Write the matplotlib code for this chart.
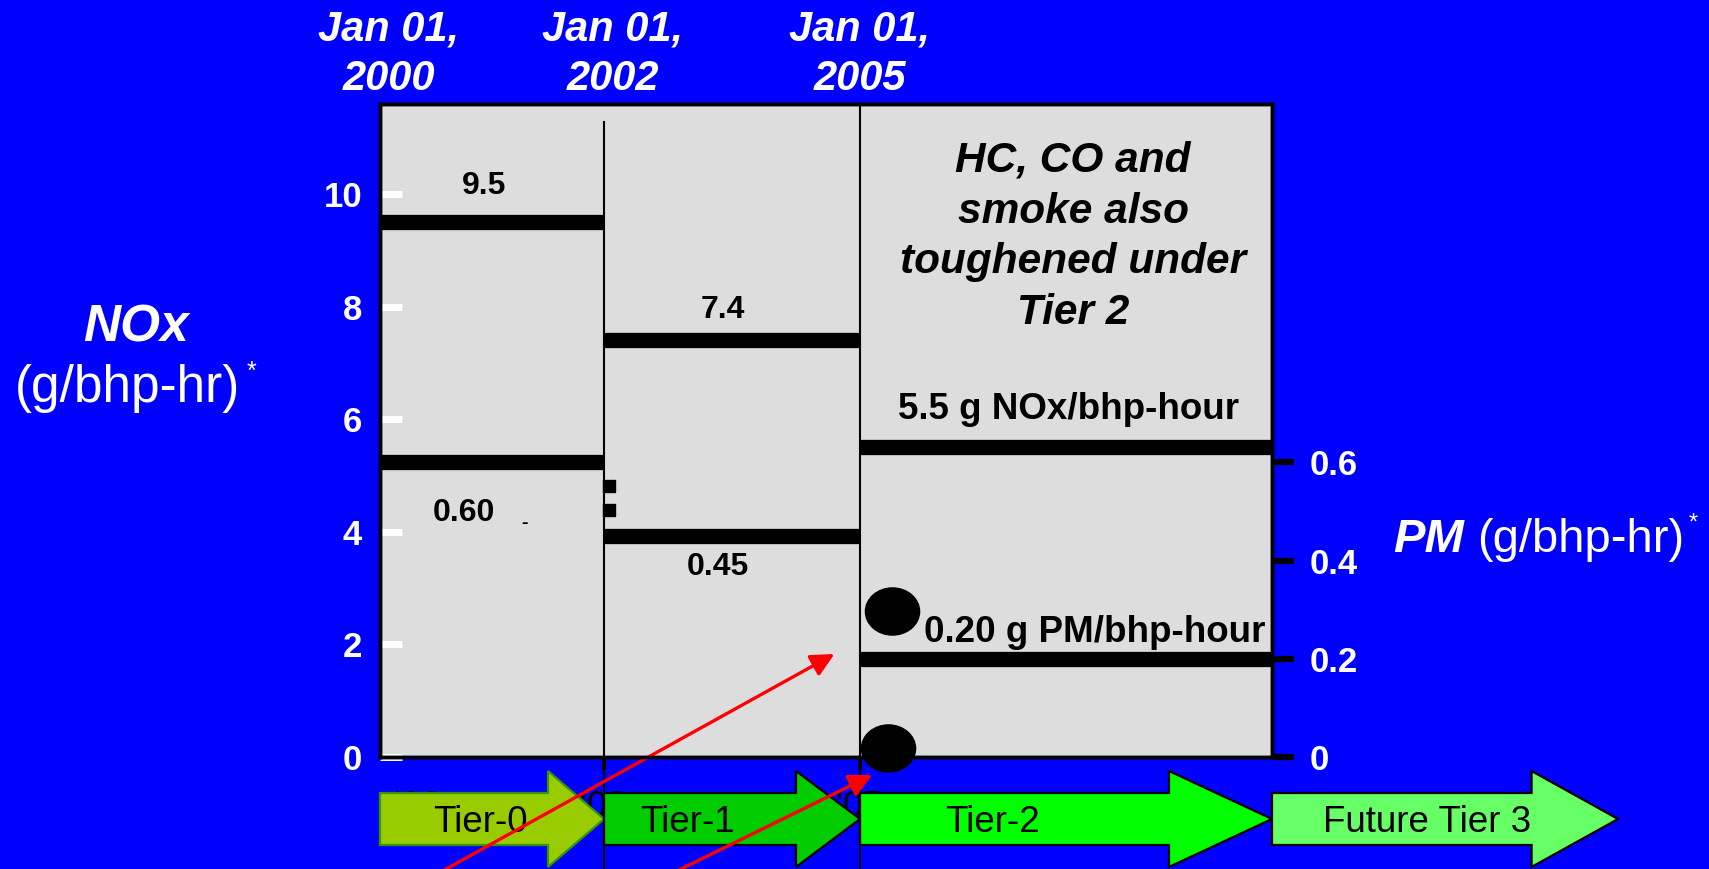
import numpy as np
import matplotlib
matplotlib.use("Agg")
import matplotlib.pyplot as plt
from matplotlib.patches import FancyArrow
from matplotlib.markers import MarkerStyle
from matplotlib.path import Path
from matplotlib.transforms import Affine2D, ScaledTranslation, blended_transform_factory

plt.rcParams["font.family"] = ["Liberation Sans", "DejaVu Sans"]

# --- data ---
tier_start = [2000, 2002, 2005]
tier_end = [2002, 2005, 2010]
nox = [9.5, 7.4, 5.5]
pm = [0.60, 0.45, 0.20]
nox_labels = ["9.5", "7.4", "5.5 g NOx/bhp-hour"]
pm_labels = ["0.60", "0.45", "0.20 g PM/bhp-hour"]

date_years = [2000, 2002, 2005]
date_labels = ["Jan 01,\n2000", "Jan 01,\n2002", "Jan 01,\n2005"]
year_ticks = [2000, 2002, 2005]
year_tick_labels = ["'00", "'02", "'05"]

arrow_names = ["Tier-0", "Tier-1", "Tier-2", "Future Tier 3"]
arrow_start = [2000, 2002, 2005, 2010]
arrow_end = [2002, 2005, 2010, 2014.2]
arrow_colors = ["#99CC00", "#00CC00", "#00FF00", "#66FF66"]
arrow_edges = ["#339900", "black", "black", "black"]

nox_ticks = [0, 2, 4, 6, 8, 10]
pm_ticks = [0, 0.2, 0.4, 0.6]
pm_tick_labels = ["0", "0.2", "0.4", "0.6"]

bullet_x = [2005.39, 2005.34]
bullet_y = [2.59, 0.16]

# red pointers, tail -> head (NOx units)
pointer_from = [(2000.40, -2.2), (2002.62, -2.2)]
pointer_to = [(2004.70, 1.83), (2005.15, -0.32)]

# stray marks next to the 2002 line (PM units)
stray_x = [2002.06, 2002.06]
stray_y = [0.552, 0.503]

note = "HC, CO and\nsmoke also\ntoughened under\nTier 2"

# the slide spaces the years unevenly -> piecewise-linear x scale
knot_years = np.array([2000, 2002, 2005, 2010], dtype=float)
knot_px = np.array([0, 224, 480, 892], dtype=float)


def fwd(x):
    x = np.asarray(x, dtype=float)
    out = np.interp(x, knot_years, knot_px)
    out = np.where(x < 2000, (x - 2000) * 112.0, out)
    out = np.where(x > 2010, 892 + (x - 2010) * 82.4, out)
    return out


def inv(p):
    p = np.asarray(p, dtype=float)
    out = np.interp(p, knot_px, knot_years)
    out = np.where(p < 0, 2000 + p / 112.0, out)
    out = np.where(p > 892, 2010 + (p - 892) / 82.4, out)
    return out


W, H = 1709, 869
BLUE = "#0000FF"
fig = plt.figure(figsize=(W / 100, H / 100), dpi=100, facecolor=BLUE)
ax = fig.add_axes([380 / W, 1 - 757 / H, 892 / W, 653 / H])
ax.set_facecolor("#DDDDDD")
ax.set_xscale("function", functions=(fwd, inv))
ax.set_xlim(2000, 2010)
ax.set_ylim(0, 11.6)

ax2 = ax.twinx()
ax2.set_ylim(0, 1.33)

for a in (ax, ax2):
    for sp in a.spines.values():
        sp.set_color("black")
        sp.set_linewidth(2.5)

# left axis (NOx)
ax.set_yticks(nox_ticks)
ax.set_yticklabels([str(t) for t in nox_ticks], fontweight="bold")
ax.tick_params(axis="y", direction="in", length=16, width=5, color="white",
               labelsize=25, labelcolor="white", pad=13)

# right axis (PM)
ax2.set_yticks(pm_ticks)
ax2.set_yticklabels(pm_tick_labels, fontweight="bold")
ax2.tick_params(axis="y", direction="out", length=16, width=4.5, color="black",
                labelsize=25, labelcolor="white", pad=11)

# bottom ticks (mostly hidden behind the tier arrows)
ax.set_xticks(year_ticks)
ax.set_xticklabels(year_tick_labels)
ax.tick_params(axis="x", direction="out", length=9, width=3, color="black",
               labelsize=26, labelcolor="black", pad=15)
first = ax.xaxis.get_major_ticks()[0]
first.tick1line.set_visible(False)
first.label1.set_transform(first.label1.get_transform()
                           + ScaledTranslation(0.37, 0, fig.dpi_scale_trans))

# standards as thick black bars
for s, e, v in zip(tier_start, tier_end, nox):
    ax.plot([s, e], [v, v], color="black", lw=11, solid_capstyle="butt",
            clip_on=False, zorder=5)
for s, e, v in zip(tier_start, tier_end, pm):
    ax2.plot([s, e], [v, v], color="black", lw=11, solid_capstyle="butt",
             clip_on=False, zorder=5)

nox_off = [(-8, 36), (-9, 30), (2, 38)]
nox_size = [23, 23, 26.5]
for s, e, v, lbl, off, fs in zip(tier_start, tier_end, nox, nox_labels, nox_off, nox_size):
    mid = float(inv((fwd(s) + fwd(e)) / 2))
    ax.annotate(lbl, xy=(mid, v), xytext=off, textcoords="offset pixels",
                ha="center", va="center", fontsize=fs, fontweight="bold",
                color="black", annotation_clip=False, zorder=6)

pm_off = [(-28, -51), (-14, -31), (29, 26)]
pm_size = [23, 23, 26.5]
for s, e, v, lbl, off, fs in zip(tier_start, tier_end, pm, pm_labels, pm_off, pm_size):
    mid = float(inv((fwd(s) + fwd(e)) / 2))
    ax2.annotate(lbl, xy=(mid, v), xytext=off, textcoords="offset pixels",
                 ha="center", va="center", fontsize=fs, fontweight="bold",
                 color="black", annotation_clip=False, zorder=6)

ax2.plot(stray_x, stray_y, linestyle="none", marker="s", markersize=8,
         color="black", clip_on=False, zorder=5)
ax2.text(2001.29, 0.475, "-", fontsize=14, fontweight="bold", color="black",
         ha="center", va="center")

# era boundaries
ax.plot([2002, 2002], [-3, 11.28], color="black", lw=1.5, clip_on=False, zorder=4)
ax.plot([2005, 2005], [-3, 11.6], color="black", lw=1.5, clip_on=False, zorder=4)

# tier arrows under the chart
trans = blended_transform_factory(ax.transData, fig.transFigure)
yc = 1 - 819 / H
body = 52 / H
head = 96 / H
lbl_off = [16, -13, -22, 25]
for name, s, e, fc, ec, dx in zip(arrow_names, arrow_start, arrow_end,
                                  arrow_colors, arrow_edges, lbl_off):
    span = e - s
    arr = FancyArrow(s, yc, span, 0, width=body, head_width=head,
                     head_length=0.25 * span, length_includes_head=True,
                     transform=trans, facecolor=fc, edgecolor=ec, lw=1.6,
                     zorder=3, clip_on=False)
    ax.add_patch(arr)
    body_mid = float(inv(fwd(s) + 0.375 * (fwd(e) - fwd(s))))
    ax.annotate(name, xy=(body_mid, yc), xycoords=trans, xytext=(dx, -3),
                textcoords="offset pixels", ha="center", va="center",
                fontsize=26.5, color="black", annotation_clip=False, zorder=3.5)

# black bullets
ell = Path.unit_circle().transformed(Affine2D().scale(1.0, 0.87))
ax.plot(bullet_x, bullet_y, linestyle="none", marker=MarkerStyle(ell),
        markersize=39, color="black", clip_on=False, zorder=6)

# red pointers
for (x0, y0), (x1, y1) in zip(pointer_from, pointer_to):
    ax.annotate("", xy=(x1, y1), xytext=(x0, y0),
                arrowprops=dict(arrowstyle="-|>,head_length=0.7,head_width=0.35",
                                color="red", lw=2.4, shrinkA=0, shrinkB=0,
                                mutation_scale=20),
                annotation_clip=False, zorder=7)

# note in the Tier 2 panel
ax.text((1073 - 380) / 892, (757 - 237) / 653, note, transform=ax.transAxes,
        ha="center", va="center", multialignment="center", fontsize=30.5,
        linespacing=1.35, fontweight="bold", fontstyle="italic",
        color="black", zorder=6)

# dates on top
date_off = [9, 9, 0]
for yr, lbl, dx in zip(date_years, date_labels, date_off):
    ax.annotate(lbl, xy=(yr, 1 - 54 / H), xycoords=trans, xytext=(dx, 0),
                textcoords="offset pixels", ha="center", va="center",
                multialignment="center", fontsize=30, linespacing=1.3,
                fontweight="bold", fontstyle="italic", color="white",
                annotation_clip=False)

# axis titles
def fx(px):
    return px / W


def fy(py):
    return 1 - py / H


fig.text(fx(136), fy(342), "NOx", ha="center", va="baseline", fontsize=37,
         fontweight="bold", fontstyle="italic", color="white")
fig.text(fx(128), fy(402), "(g/bhp-hr)", ha="center", va="baseline",
         fontsize=37, color="white")
fig.text(fx(251), fy(372), "*", ha="center", va="center", fontsize=18,
         color="white")

fig.text(fx(1393), fy(552), "PM", ha="left", va="baseline", fontsize=34,
         fontweight="bold", fontstyle="italic", color="white")
fig.text(fx(1477), fy(552), "(g/bhp-hr)", ha="left", va="baseline",
         fontsize=34, color="white")
fig.text(fx(1693), fy(524), "*", ha="center", va="center", fontsize=17,
         color="white")

fig.savefig("out.png", dpi=100, facecolor=fig.get_facecolor())
